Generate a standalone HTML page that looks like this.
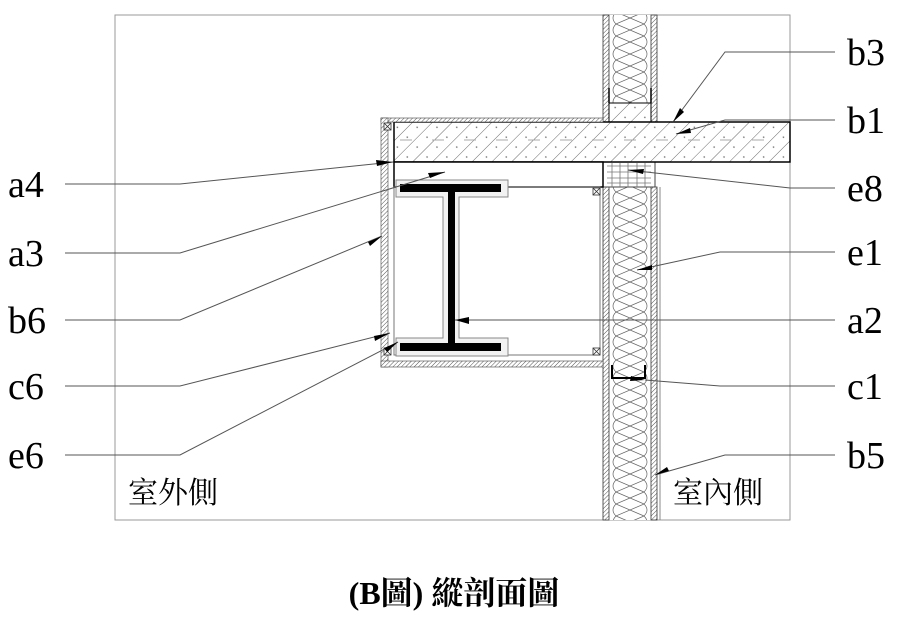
<!DOCTYPE html>
<html><head><meta charset="utf-8"><style>
html,body{margin:0;padding:0;background:#fff;width:902px;height:631px;overflow:hidden}
svg{display:block}
text{font-family:"Liberation Serif","Noto Serif CJK SC",serif;fill:#000}
</style></head><body>
<svg width="902" height="631" viewBox="0 0 902 631" xmlns="http://www.w3.org/2000/svg">
<defs>
<pattern id="h" width="3" height="3" patternUnits="userSpaceOnUse" patternTransform="rotate(45)">
<rect width="3" height="3" fill="#fff"/><line x1="0" y1="0" x2="0" y2="3" stroke="#555" stroke-width="1"/></pattern>
<pattern id="conc" width="14" height="14" patternUnits="userSpaceOnUse" patternTransform="rotate(45)">
<rect width="14" height="14" fill="#fff"/><line x1="0" y1="0" x2="0" y2="14" stroke="#444" stroke-width="0.8"/><circle cx="7" cy="5" r="0.8" fill="#666"/></pattern>
<pattern id="ins" x="609" y="0" width="42" height="24" patternUnits="userSpaceOnUse">
<rect width="42" height="24" fill="#fff"/>
<path d="M7 0 Q1 6 7 12 L35 0 M7 12 L35 24 M35 12 Q41 18 35 24 M35 12 L7 24 M35 0 Q41 6 35 12 M7 12 Q1 18 7 24 M7 0 L35 12" fill="none" stroke="#666" stroke-width="0.7"/></pattern>
</defs>
<rect x="115" y="15" width="675" height="505" fill="none" stroke="#999" stroke-width="1"/>
<rect x="609" y="15" width="42" height="88" fill="url(#ins)"/>
<rect x="609" y="187" width="42" height="333" fill="url(#ins)"/>
<rect x="603" y="15" width="6" height="107" fill="url(#h)" stroke="#333" stroke-width="0.8"/>
<rect x="651" y="15" width="6" height="107" fill="url(#h)" stroke="#333" stroke-width="0.8"/>
<rect x="603" y="187" width="6" height="333" fill="url(#h)" stroke="#333" stroke-width="0.8"/>
<rect x="651" y="187" width="6" height="333" fill="url(#h)" stroke="#333" stroke-width="0.8"/>
<line x1="660" y1="187" x2="660" y2="520" stroke="#888"/>
<rect x="609" y="103" width="42" height="19" fill="url(#conc)" stroke="#000" stroke-width="1"/>
<line x1="609" y1="103" x2="609" y2="88" stroke="#000" stroke-width="1.5"/>
<line x1="651" y1="103" x2="651" y2="88" stroke="#000" stroke-width="1.5"/>
<rect x="603" y="162" width="52" height="25" fill="#fff" stroke="#444"/>
<path d="M607 166h44M607 172h44M607 178h44M607 183h44M612 163v24M620 163v24M628 163v24M637 163v24M645 163v24" stroke="#777" stroke-width="0.8"/>
<rect x="394" y="122" width="396" height="40" fill="url(#conc)" stroke="#000" stroke-width="1.5"/>
<path d="M400 140h380" stroke="#aaa" stroke-dasharray="12 20"/>
<rect x="381" y="118" width="222" height="4" fill="url(#h)" stroke="#444" stroke-width="0.6"/>
<rect x="381" y="118" width="7" height="249" fill="url(#h)" stroke="#444" stroke-width="0.6"/>
<rect x="381" y="361" width="222" height="6" fill="url(#h)" stroke="#444" stroke-width="0.6"/>
<rect x="394" y="162" width="209" height="25" fill="#fff" stroke="#000" stroke-width="1.5"/>
<rect x="394" y="187" width="206" height="168" fill="none" stroke="#777"/>
<g stroke="#333" fill="#fff" stroke-width="0.8">
<rect x="384" y="123" width="7" height="7"/><path d="M384 123l7 7M391 123l-7 7"/>
<rect x="384" y="348" width="7" height="7"/><path d="M384 348l7 7M391 348l-7 7"/>
<rect x="593" y="188" width="7" height="7"/><path d="M593 188l7 7M600 188l-7 7"/>
<rect x="593" y="348" width="7" height="7"/><path d="M593 348l7 7M600 348l-7 7"/>
</g>
<path d="M396 180H508V197H459V338H508V356H396V338H443V197H396Z" fill="#f2f2f2" stroke="#888"/>
<rect x="400" y="184" width="101" height="8" fill="#000"/>
<rect x="400" y="343" width="101" height="8" fill="#000"/>
<rect x="448" y="192" width="7" height="152" fill="#000"/>
<path d="M612 365v13h33v-13" fill="none" stroke="#000" stroke-width="2"/>
<g stroke="#555" stroke-width="1" fill="none">
<path d="M65 184H180L393 162"/>
<path d="M65 253H180L445 172"/>
<path d="M65 320H180L382 236"/>
<path d="M65 386H180L390 333"/>
<path d="M65 455H180L398 342"/>
<path d="M835 52H725L673 122"/>
<path d="M835 120H725L676 134"/>
<path d="M835 188H790L628 170"/>
<path d="M835 252H720L637 270"/>
<path d="M835 320H455"/>
<path d="M835 386H720L645 380"/>
<path d="M835 455H725L655 475"/>
</g>
<g fill="#000">
<polygon points="393,162 376,160 377,166"/>
<polygon points="445,172 428,173 430,178"/>
<polygon points="382,236 368,242 370,246"/>
<polygon points="390,333 374,336 375,341"/>
<polygon points="398,342 384,348 387,352"/>
<polygon points="673,122 680,108 684,112"/>
<polygon points="676,134 690,128 691,133"/>
<polygon points="628,170 644,169 643,174"/>
<polygon points="637,270 652,265 652,270"/>
<polygon points="455,320 469,317 469,324"/>
<polygon points="645,380 631,376 630,381"/>
<polygon points="655,475 667,467 669,471"/>
</g>
<g font-size="38">
<text x="8" y="197">a4</text><text x="8" y="266">a3</text><text x="8" y="333">b6</text><text x="8" y="399">c6</text><text x="8" y="468">e6</text>
<text x="847" y="65">b3</text><text x="847" y="133">b1</text><text x="847" y="201">e8</text><text x="847" y="265">e1</text><text x="847" y="333">a2</text><text x="847" y="399">c1</text><text x="847" y="468">b5</text>
</g>
<text x="128" y="503" font-size="30">室外側</text>
<text x="673" y="503" font-size="30">室內側</text>
<text x="454" y="604" font-size="32" font-weight="bold" text-anchor="middle">(B圖)  縱剖面圖</text>
</svg>
</body></html>
